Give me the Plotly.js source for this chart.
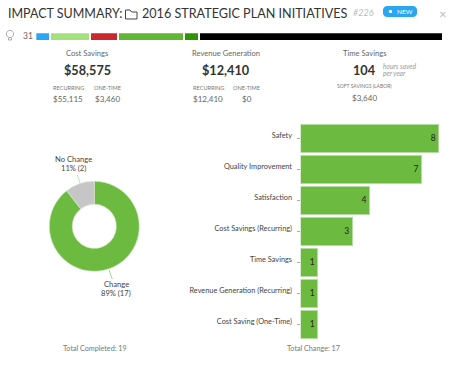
<!DOCTYPE html>
<html><head><meta charset="utf-8">
<script src="https://cdn.plot.ly/plotly-3.0.1.min.js"></script>
<style>html,body{margin:0;padding:0;background:#fff}</style>
</head><body><div id="c" style="width:456px;height:365px"></div>
<script>
const barCategories=["Safety","Quality Improvement","Satisfaction","Cost Savings (Recurring)","Time Savings","Revenue Generation (Recurring)","Cost Saving (One-Time)"];
const barValues=[8,7,4,3,1,1,1];
const donutLabels=["Change","No Change"];
const donutValues=[17,2];
const stripValues=[1,3,2,5,1,19];
const stripColors=["#2aa7f0","#a4e07e","#c8282e","#62b636","#2f9400","#000000"];
const W=456,H=365,FONT="Lato, sans-serif";
const px=x=>x/W, py=y=>1-y/H;
const GREEN="#6cbb40";

const traces=[];
// status strip
const stripGap=0.157;
stripValues.forEach((v,i)=>{
  traces.push({type:"bar",orientation:"h",x:[v],y:["s"],width:1,xaxis:"x2",yaxis:"y2",
    marker:{color:stripColors[i],line:{width:0}},hoverinfo:"skip",showlegend:false});
  if(i<stripValues.length-1) traces.push({type:"bar",orientation:"h",x:[stripGap],y:["s"],width:1,xaxis:"x2",yaxis:"y2",
    marker:{color:"rgba(0,0,0,0)",line:{width:0}},hoverinfo:"skip",showlegend:false});
});
// horizontal bars
traces.push({type:"bar",orientation:"h",x:barValues,y:barCategories,xaxis:"x",yaxis:"y",
  marker:{color:GREEN,line:{color:"#b5dca0",width:1}},
  text:barValues.map(String),textposition:"inside",insidetextanchor:"end",textangle:0,
  textfont:{family:FONT,size:8.5,color:"#222"},constraintext:"none",showlegend:false});
// donut
traces.push({type:"pie",labels:donutLabels,values:donutValues,hole:0.49,sort:false,direction:"clockwise",rotation:0,
  domain:{x:[px(49.3),px(139.3)],y:[py(271.3),py(181.3)]},
  marker:{colors:[GREEN,"#c6c6c6"],line:{color:"#d8e8cf",width:0.6}},textinfo:"none",showlegend:false});

function T(text,x,y,size,color,opt){
  return Object.assign({text:text,x:px(x),y:py(y),xref:"paper",yref:"paper",showarrow:false,xanchor:"center",yanchor:"middle",
    font:{family:FONT,size:size,color:color},borderpad:0},opt||{});
}
const L={xanchor:"left"};
const annotations=[
  T("IMPACT SUMMARY:",7,14,12.5,"#333",L),
  T("2016 STRATEGIC PLAN INITIATIVES",140.5,14,12.6,"#333",L),
  T("<i>#226</i>",352,12.5,9,"#bbb",L),
  T("NEW",404.5,11.5,6.5,"#fff"),
  T("×",442.5,14,13,"#bbb"),
  T("31",28,36,8.5,"#666"),
  T("Cost Savings",87,53,7.6,"#666"),
  T("<b>$58,575</b>",87,70,12.7,"#333"),
  T("RECURRING",68,87,5.6,"#777"),
  T("ONE-TIME",107.5,87,5.6,"#777"),
  T("$55,115",68,98.5,8,"#666"),
  T("$3,460",107.5,98.5,8,"#666"),
  T("Revenue Generation",225.5,53,7.6,"#666"),
  T("<b>$12,410</b>",226,70,12.7,"#333"),
  T("RECURRING",208,87,5.6,"#777"),
  T("ONE-TIME",246.5,87,5.6,"#777"),
  T("$12,410",208,98.5,8,"#666"),
  T("$0",246.5,98.5,8,"#666"),
  T("Time Savings",364.5,53,7.6,"#666"),
  T("<b>104</b>",364.5,70,12.7,"#333"),
  T("<i>hours saved</i>",382,66.5,6.7,"#999",L),
  T("<i>per year</i>",382,73,6.7,"#999",L),
  T("SOFT SAVINGS (LABOR)",364,86.5,5,"#777"),
  T("$3,640",364,98,8,"#666"),
  T("No Change",73,159.3,7.6,"#444"),
  T("11% (2)",73,168.3,7.6,"#444"),
  T("Change",116,284,7.6,"#444"),
  T("89% (17)",116,293,7.6,"#444"),
  T("Total Completed: 19",94.5,348,7.2,"#777"),
  T("Total Change: 17",313,348,7.2,"#777")
];
function P(pts,close){
  return pts.map((p,i)=>(i?"L":"M")+px(p[0]).toFixed(5)+" "+py(p[1]).toFixed(5)).join(" ")+(close?" Z":"");
}
function base(o){return Object.assign({type:"path",xref:"paper",yref:"paper",layer:"above"},o);}
function arc(cx,cy,r){const a=[];for(let i=0;i<24;i++){const t=i/24*2*Math.PI;a.push([cx+r*Math.cos(t),cy+r*Math.sin(t)]);}return a;}
function roundRect(x0,y0,x1,y1,r){const a=[];const c=[[x1-r,y0+r,-90],[x1-r,y1-r,0],[x0+r,y1-r,90],[x0+r,y0+r,180]];
  c.forEach(k=>{for(let i=0;i<=6;i++){const t=(k[2]+i*15)*Math.PI/180;a.push([k[0]+r*Math.cos(t),k[1]+r*Math.sin(t)]);}});return a;}
const shapes=[
  // folder icon
  base({path:P([[125.5,19],[125.5,10],[130,10],[131.5,12],[137,12],[137,19]],true),line:{color:"#444",width:1},fillcolor:"rgba(0,0,0,0)"}),
  // NEW badge
  base({path:P(roundRect(383,6,417,17,4),true),line:{width:0},fillcolor:"#2aa7f0",layer:"below"}),
  base({path:P(arc(390.5,11.5,1.6),true),line:{width:0},fillcolor:"#fff"}),
  // bulb icon
  base({path:P(arc(10,34,3.6),true),line:{color:"#aaa",width:1},fillcolor:"rgba(0,0,0,0)"}),
  base({path:P([[8.5,38],[8.5,40],[11.5,40],[11.5,38]]),line:{color:"#aaa",width:1},fillcolor:"rgba(0,0,0,0)"}),
  // donut leader lines
  base({path:P([[77.3,175],[80,183]]),line:{color:"#c6e3b4",width:1}}),
  base({path:P([[109,270],[112.3,279]]),line:{color:"#a9d68e",width:1}})
];
const layout={
  width:W,height:H,autosize:false,margin:{l:0,r:0,t:0,b:0,pad:0},
  paper_bgcolor:"#fff",plot_bgcolor:"rgba(0,0,0,0)",
  barmode:"stack",bargap:0.1,showlegend:false,
  font:{family:FONT},
  xaxis:{domain:[px(300.5),px(438.7)],range:[0,8],visible:false,fixedrange:true},
  yaxis:{domain:[py(339.6),py(122.8)],type:"category",categoryorder:"array",categoryarray:barCategories,autorange:"reversed",
    anchor:"x",showgrid:false,zeroline:false,showline:false,ticks:"outside",ticklen:3,tickwidth:1,tickcolor:"#aaa",
    ticklabelstandoff:3,ticklabelshift:3,tickfont:{family:FONT,size:7.35,color:"#444"},automargin:false},
  xaxis2:{domain:[px(36.3),px(442.3)],range:[0,31+5*stripGap],visible:false,anchor:"y2"},
  yaxis2:{domain:[py(40),py(33.3)],visible:false,anchor:"x2",type:"category"},
  annotations:annotations,shapes:shapes
};
Plotly.newPlot("c",traces,layout,{displayModeBar:false,staticPlot:true});
</script></body></html>
